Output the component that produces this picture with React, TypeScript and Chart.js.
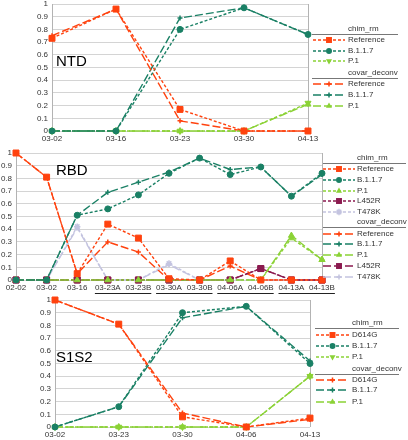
import React, { useEffect, useRef } from 'react';
import { Chart, registerables } from 'chart.js';

Chart.register(...registerables);

const FONT = '"Liberation Sans", Arial, sans-serif';
const REF = '#ff420e';
const B117 = '#1a8065';
const P1 = '#8bd236';
const L452R = '#8b1a4f';
const T478K = '#c4c4e0';

// ---------- NTD ----------
const ntdCats = ['03-02', '03-16', '03-23', '03-30', '04-13'];
const ntdChimRef = [0.73, 0.96, 0.17, 0, 0];
const ntdChimB117 = [0, 0, 0.8, 0.97, 0.76];
const ntdChimP1 = [0, 0, 0, 0, 0.22];
const ntdCovRef = [0.75, 0.96, 0.08, 0, 0];
const ntdCovB117 = [0, 0, 0.89, 0.97, 0.76];
const ntdCovP1 = [0, 0, 0, 0, 0.21];

// ---------- RBD ----------
const rbdCats = ['02-02', '03-02', '03-16', '03-23A', '03-23B', '03-30A', '03-30B', '04-06A', '04-06B', '04-13A', '04-13B'];
const rbdChimRef = [1.0, 0.81, 0.05, 0.44, 0.33, 0.01, 0, 0.15, 0, 0, 0];
const rbdChimB117 = [0, 0, 0.51, 0.56, 0.67, 0.84, 0.96, 0.83, 0.89, 0.66, 0.84];
const rbdChimP1 = [0, 0, 0, 0, 0, 0, 0, 0, 0, 0.33, 0.16];
const rbdChimL452R = [0, 0, 0, 0, 0, 0, 0, 0, 0.09, 0, 0];
const rbdChimT478K = [0, 0, 0.42, 0, 0, 0.13, 0, 0, 0, 0, 0];
const rbdCovRef = [1.0, 0.81, 0.05, 0.3, 0.22, 0, 0, 0.11, 0, 0, 0];
const rbdCovB117 = [0, 0, 0.51, 0.69, 0.77, 0.85, 0.96, 0.87, 0.89, 0.66, 0.83];
const rbdCovP1 = [0, 0, 0, 0, 0, 0, 0, 0, 0, 0.35, 0.16];
const rbdCovL452R = [0, 0, 0, 0, 0, 0, 0, 0, 0.09, 0, 0];
const rbdCovT478K = [0, 0, 0.41, 0, 0, 0.12, 0, 0, 0, 0, 0];
const rbdGroups = [[3, 4], [5, 6], [7, 8], [9, 10]];

// ---------- S1S2 ----------
const s12Cats = ['03-02', '03-23', '03-30', '04-06', '04-13'];
const s12ChimD614G = [1.0, 0.81, 0.08, 0, 0.07];
const s12ChimB117 = [0, 0.16, 0.9, 0.95, 0.5];
const s12ChimP1 = [0, 0, 0, 0, 0.4];
const s12CovD614G = [1.0, 0.81, 0.11, 0, 0.06];
const s12CovB117 = [0, 0.16, 0.86, 0.95, 0.52];
const s12CovP1 = [0, 0, 0, 0, 0.4];

const CHIM_DASH = [3, 2];
const COV_DASH = [8, 3];

type Mk = { style: string; r: number; rot?: number };

const SQ: Mk = { style: 'rect', r: 4.2 };
const CI: Mk = { style: 'circle', r: 3 };
const TD: Mk = { style: 'triangle', r: 3.5, rot: 180 };
const TU: Mk = { style: 'triangle', r: 3.5, rot: 0 };
const PL: Mk = { style: 'cross', r: 2.5 };
const ST: Mk = { style: 'star', r: 3.2 };

function ds(label: string, data: number[], color: string, chim: boolean, mk: Mk) {
  return {
    label,
    data,
    borderColor: color,
    backgroundColor: color,
    borderWidth: 1.4,
    borderDash: chim ? CHIM_DASH : COV_DASH,
    pointStyle: mk.style,
    pointRadius: mk.r,
    pointRotation: mk.rot || 0,
    pointBorderWidth: mk.style === 'cross' || mk.style === 'star' ? 1.5 : 1,
    pointBackgroundColor: color,
    pointBorderColor: color,
    clip: false,
    tension: 0,
  };
}

function drawMarker(ctx: CanvasRenderingContext2D, mk: Mk, x: number, y: number, color: string) {
  ctx.save();
  ctx.setLineDash([]);
  ctx.fillStyle = color;
  ctx.strokeStyle = color;
  ctx.translate(x, y);
  ctx.rotate(((mk.rot || 0) * Math.PI) / 180);
  const r = mk.r;
  ctx.beginPath();
  if (mk.style === 'rect') {
    const s = Math.SQRT1_2 * r;
    ctx.rect(-s, -s, 2 * s, 2 * s);
    ctx.fill();
  } else if (mk.style === 'circle') {
    ctx.arc(0, 0, r, 0, Math.PI * 2);
    ctx.fill();
  } else if (mk.style === 'triangle') {
    ctx.moveTo(0, -r);
    ctx.lineTo(r * 0.866, r * 0.5);
    ctx.lineTo(-r * 0.866, r * 0.5);
    ctx.closePath();
    ctx.fill();
  } else if (mk.style === 'cross' || mk.style === 'star') {
    ctx.lineWidth = 1.5;
    ctx.moveTo(0, -r);
    ctx.lineTo(0, r);
    ctx.moveTo(-r, 0);
    ctx.lineTo(r, 0);
    if (mk.style === 'star') {
      const d = r * Math.SQRT1_2;
      ctx.moveTo(-d, -d);
      ctx.lineTo(d, d);
      ctx.moveTo(-d, d);
      ctx.lineTo(d, -d);
    }
    ctx.stroke();
  }
  ctx.restore();
}

type LegItem = { label: string; color: string; chim: boolean; mk: Mk };
type Spec = {
  top: number;
  height: number;
  cats: string[];
  datasets: any[];
  yWidth: number;
  xHeight: number;
  padTop: number;
  padRight: number;
  title: string;
  titleX: number;
  titleY: number;
  legend: {
    sx1: number;
    sx2: number;
    tx: number;
    lx1: number;
    lx2: number;
    groups: { title: string; ty: number; rows: number[]; items: LegItem[] }[];
  };
  groups?: number[][];
  groupLineY?: number;
};

const ntdItemsChim: LegItem[] = [
  { label: 'Reference', color: REF, chim: true, mk: SQ },
  { label: 'B.1.1.7', color: B117, chim: true, mk: CI },
  { label: 'P.1', color: P1, chim: true, mk: TD },
];
const ntdItemsCov: LegItem[] = [
  { label: 'Reference', color: REF, chim: false, mk: PL },
  { label: 'B.1.1.7', color: B117, chim: false, mk: PL },
  { label: 'P.1', color: P1, chim: false, mk: TU },
];

const rbdItemsChim: LegItem[] = [
  { label: 'Reference', color: REF, chim: true, mk: SQ },
  { label: 'B.1.1.7', color: B117, chim: true, mk: CI },
  { label: 'P.1', color: P1, chim: true, mk: TU },
  { label: 'L452R', color: L452R, chim: true, mk: SQ },
  { label: 'T478K', color: T478K, chim: true, mk: ST },
];
const rbdItemsCov: LegItem[] = [
  { label: 'Reference', color: REF, chim: false, mk: PL },
  { label: 'B.1.1.7', color: B117, chim: false, mk: PL },
  { label: 'P.1', color: P1, chim: false, mk: TU },
  { label: 'L452R', color: L452R, chim: false, mk: SQ },
  { label: 'T478K', color: T478K, chim: false, mk: PL },
];

const s12ItemsChim: LegItem[] = [
  { label: 'D614G', color: REF, chim: true, mk: SQ },
  { label: 'B.1.1.7', color: B117, chim: true, mk: CI },
  { label: 'P.1', color: P1, chim: true, mk: TD },
];
const s12ItemsCov: LegItem[] = [
  { label: 'D614G', color: REF, chim: false, mk: PL },
  { label: 'B.1.1.7', color: B117, chim: false, mk: PL },
  { label: 'P.1', color: P1, chim: false, mk: TU },
];

function toDatasets(items: LegItem[], series: number[][]) {
  return items.map((it, i) => ds(it.label, series[i], it.color, it.chim, it.mk));
}

const specs: Spec[] = [
  {
    top: -6,
    height: 152,
    cats: ntdCats,
    datasets: [
      ...toDatasets(ntdItemsChim, [ntdChimRef, ntdChimB117, ntdChimP1]),
      ...toDatasets(ntdItemsCov, [ntdCovRef, ntdCovB117, ntdCovP1]),
    ],
    yWidth: 52,
    xHeight: 15,
    padTop: 10,
    padRight: 100,
    title: 'NTD',
    titleX: 56,
    titleY: 62,
    legend: {
      sx1: 313, sx2: 345, tx: 348, lx1: 312, lx2: 398,
      groups: [
        { title: 'chim_rm', ty: 29, rows: [40, 51, 61], items: ntdItemsChim },
        { title: 'covar_deconv', ty: 73, rows: [84, 95, 106], items: ntdItemsCov },
      ],
    },
  },
  {
    top: 140,
    height: 160,
    cats: rbdCats,
    datasets: [
      ...toDatasets(rbdItemsChim, [rbdChimRef, rbdChimB117, rbdChimP1, rbdChimL452R, rbdChimT478K]),
      ...toDatasets(rbdItemsCov, [rbdCovRef, rbdCovB117, rbdCovP1, rbdCovL452R, rbdCovT478K]),
    ],
    yWidth: 16,
    xHeight: 20,
    padTop: 13,
    padRight: 86,
    title: 'RBD',
    titleX: 56,
    titleY: 171,
    legend: {
      sx1: 323, sx2: 355, tx: 357, lx1: 323, lx2: 406,
      groups: [
        { title: 'chim_rm', ty: 158, rows: [169, 180, 191, 201, 212], items: rbdItemsChim },
        { title: 'covar_deconv', ty: 222, rows: [234, 244, 255, 266, 277], items: rbdItemsCov },
      ],
    },
    groups: rbdGroups,
    groupLineY: 293,
  },
  {
    top: 290,
    height: 150,
    cats: s12Cats,
    datasets: [
      ...toDatasets(s12ItemsChim, [s12ChimD614G, s12ChimB117, s12ChimP1]),
      ...toDatasets(s12ItemsCov, [s12CovD614G, s12CovB117, s12CovP1]),
    ],
    yWidth: 55,
    xHeight: 13,
    padTop: 10,
    padRight: 98,
    title: 'S1S2',
    titleX: 56,
    titleY: 358,
    legend: {
      sx1: 316, sx2: 349, tx: 352, lx1: 315, lx2: 399,
      groups: [
        { title: 'chim_rm', ty: 323, rows: [335, 346, 357], items: s12ItemsChim },
        { title: 'covar_deconv', ty: 369, rows: [380, 390, 402], items: s12ItemsCov },
      ],
    },
  },
];

function Panel({ spec }: { spec: Spec }) {
  const ref = useRef<HTMLCanvasElement | null>(null);
  useEffect(() => {
    const canvas = ref.current;
    if (!canvas) return;
    const off = spec.top;
    const extras = {
      id: 'extras' + spec.title,
      beforeDatasetsDraw(chart: any) {
        const { ctx, chartArea } = chart;
        ctx.save();
        ctx.strokeStyle = '#b3b3b3';
        ctx.lineWidth = 1;
        ctx.beginPath();
        ctx.moveTo(Math.round(chartArea.right) + 0.5, chartArea.top);
        ctx.lineTo(Math.round(chartArea.right) + 0.5, chartArea.bottom);
        ctx.stroke();
        ctx.restore();
      },
      afterDraw(chart: any) {
        const { ctx } = chart;
        ctx.save();
        // big title
        ctx.font = `15px ${FONT}`;
        ctx.fillStyle = '#000';
        ctx.textBaseline = 'middle';
        ctx.textAlign = 'left';
        ctx.fillText(spec.title, spec.titleX, spec.titleY - off);
        // legend
        const L = spec.legend;
        ctx.font = `8px ${FONT}`;
        for (const g of L.groups) {
          ctx.fillStyle = '#333';
          ctx.setLineDash([]);
          ctx.fillText(g.title, L.tx, g.ty - off);
          ctx.strokeStyle = '#777';
          ctx.lineWidth = 1;
          ctx.beginPath();
          ctx.moveTo(L.lx1, Math.round(g.ty - off + 5) + 0.5);
          ctx.lineTo(L.lx2, Math.round(g.ty - off + 5) + 0.5);
          ctx.stroke();
          g.items.forEach((it, i) => {
            const y = g.rows[i] - off;
            ctx.save();
            ctx.strokeStyle = it.color;
            ctx.lineWidth = 1.4;
            ctx.setLineDash(it.chim ? CHIM_DASH : COV_DASH);
            ctx.beginPath();
            ctx.moveTo(L.sx1, y);
            ctx.lineTo(L.sx2, y);
            ctx.stroke();
            ctx.restore();
            drawMarker(ctx, it.mk, (L.sx1 + L.sx2) / 2, y, it.color);
            ctx.fillStyle = '#333';
            ctx.fillText(it.label, L.tx, y);
          });
        }
        // group underlines on category axis
        if (spec.groups && spec.groupLineY) {
          const xs = chart.scales.x;
          ctx.font = `8px ${FONT}`;
          ctx.strokeStyle = '#222';
          ctx.lineWidth = 1;
          ctx.setLineDash([]);
          for (const [a, b] of spec.groups) {
            const xa = xs.getPixelForTick(a) - ctx.measureText(spec.cats[a]).width / 2;
            const xb = xs.getPixelForTick(b) + ctx.measureText(spec.cats[b]).width / 2;
            const y = Math.round(spec.groupLineY - off) + 0.5;
            ctx.beginPath();
            ctx.moveTo(xa, y);
            ctx.lineTo(xb, y);
            ctx.stroke();
          }
        }
        ctx.restore();
      },
    };
    const chart = new Chart(canvas, {
      type: 'line',
      data: { labels: spec.cats, datasets: spec.datasets },
      options: {
        animation: false,
        responsive: false,
        devicePixelRatio: 1,
        layout: { padding: { top: spec.padTop, right: spec.padRight, left: 0, bottom: 0 } },
        plugins: { legend: { display: false }, tooltip: { enabled: false }, title: { display: false } },
        font: { family: FONT },
        scales: {
          x: {
            type: 'category',
            offset: false,
            grid: { display: false, drawTicks: false },
            border: { display: false },
            ticks: {
              autoSkip: false,
              maxRotation: 0,
              minRotation: 0,
              padding: 3,
              color: '#333',
              font: { family: FONT, size: 8 },
            },
            afterFit: (s: any) => {
              s.height = spec.xHeight;
            },
          },
          y: {
            min: 0,
            max: 1,
            grid: { color: '#d4d4d4', drawTicks: false, lineWidth: 1 },
            border: { display: true, color: '#b3b3b3' },
            ticks: {
              stepSize: 0.1,
              padding: 4,
              color: '#333',
              font: { family: FONT, size: 8 },
              callback: (v: any) => String(Math.round(Number(v) * 10) / 10),
            },
            afterFit: (s: any) => {
              s.width = spec.yWidth;
            },
          },
        },
      } as any,
      plugins: [extras],
    });
    return () => chart.destroy();
  }, [spec]);
  return (
    <canvas
      ref={ref}
      width={408}
      height={spec.height}
      style={{ position: 'absolute', left: 0, top: spec.top, width: 408, height: spec.height }}
    />
  );
}

export default function App() {
  return (
    <div
      style={{
        position: 'fixed',
        left: 0,
        top: 0,
        width: 408,
        height: 440,
        background: '#fff',
        overflow: 'hidden',
      }}
    >
      {specs.map((s) => (
        <Panel key={s.title} spec={s} />
      ))}
    </div>
  );
}
